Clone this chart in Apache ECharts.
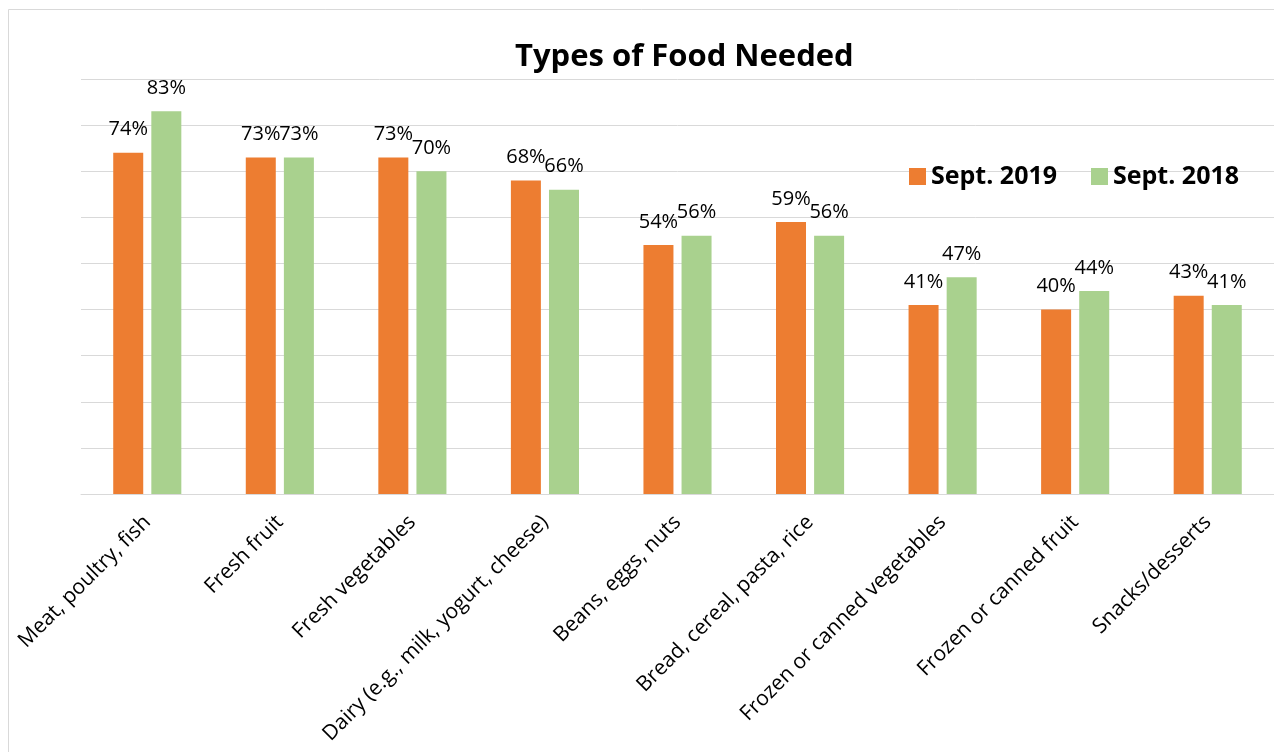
<!DOCTYPE html>
<html>
<head>
<meta charset="utf-8">
<style>
  html, body { margin: 0; padding: 0; background: #fff; }
  #chart { width: 1274px; height: 752px; }
</style>
<script src="https://cdn.jsdelivr.net/npm/echarts@6/dist/echarts.min.js"></script>
</head>
<body>
<div id="chart"></div>
<script>
// Food categories requested, with share of respondents (%) per survey
const categories = [
  'Meat, poultry, fish',
  'Fresh fruit',
  'Fresh vegetables',
  'Dairy (e.g., milk, yogurt, cheese)',
  'Beans, eggs, nuts',
  'Bread, cereal, pasta, rice',
  'Frozen or canned vegetables',
  'Frozen or canned fruit',
  'Snacks/desserts'
];
const sept2019 = [74, 73, 73, 68, 54, 59, 41, 40, 43];
const sept2018 = [83, 73, 70, 66, 56, 56, 47, 44, 41];
const seriesNames = ['Sept. 2019', 'Sept. 2018'];
const seriesColors = ['#ED7D31', '#A9D18E'];

const chart = echarts.init(document.getElementById('chart'), null, { renderer: 'canvas' });

const barLabel = {
  show: true,
  position: 'top',
  distance: 13,
  formatter: '{c}%',
  fontFamily: 'Open Sans',
  fontSize: 20,
  color: '#000'
};

chart.setOption({
  animation: false,
  backgroundColor: '#fff',
  graphic: [{
    type: 'rect',
    shape: { x: 8.5, y: 9.5, width: 1300, height: 800 },
    style: { fill: 'none', stroke: '#D9D9D9', lineWidth: 1 },
    silent: true
  }],
  title: {
    text: 'Types of Food Needed',
    left: 510,
    top: 37,
    textStyle: {
      fontFamily: 'Open Sans',
      fontWeight: 'bold',
      fontSize: 31,
      color: '#000'
    }
  },
  legend: {
    data: seriesNames,
    left: 904,
    top: 159,
    itemWidth: 17,
    itemHeight: 17,
    itemGap: 34,
    icon: 'rect',
    textStyle: {
      fontFamily: 'Open Sans',
      fontWeight: 'bold',
      fontSize: 25,
      color: '#000'
    }
  },
  grid: {
    left: 81,
    top: 79,
    width: 1194,
    height: 415,
    containLabel: false
  },
  xAxis: {
    type: 'category',
    data: categories,
    axisLine: { show: true, lineStyle: { color: '#D9D9D9', width: 1 } },
    axisTick: { show: false },
    axisLabel: {
      rotate: 45,
      interval: 0,
      margin: 25,
      fontFamily: 'Open Sans',
      fontSize: 21,
      color: '#000'
    }
  },
  yAxis: {
    type: 'value',
    min: 0,
    max: 90,
    interval: 10,
    axisLabel: { show: false },
    axisLine: { show: false },
    axisTick: { show: false },
    splitLine: { lineStyle: { color: '#D9D9D9', width: 1 } }
  },
  series: [
    {
      name: seriesNames[0],
      type: 'bar',
      data: sept2019,
      barWidth: 30,
      barGap: '27%',
      itemStyle: { color: seriesColors[0] },
      label: barLabel
    },
    {
      name: seriesNames[1],
      type: 'bar',
      data: sept2018,
      barWidth: 30,
      barGap: '27%',
      itemStyle: { color: seriesColors[1] },
      label: barLabel
    }
  ]
});
</script>
</body>
</html>
